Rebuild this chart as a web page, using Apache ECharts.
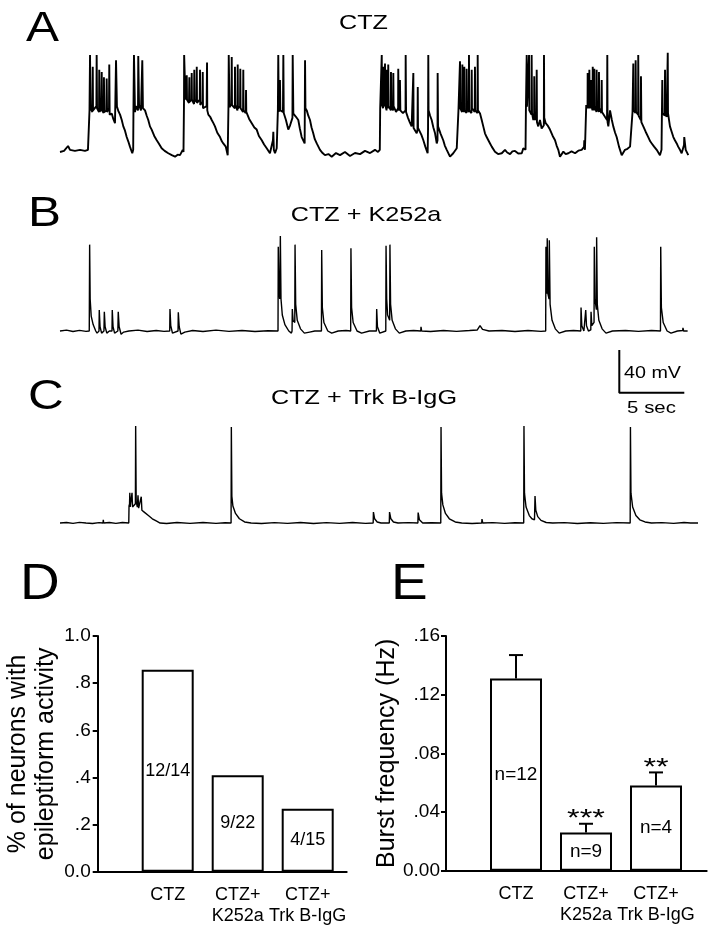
<!DOCTYPE html>
<html><head><meta charset="utf-8">
<script src="https://cdn.jsdelivr.net/npm/echarts/dist/echarts.min.js"></script>
<style>html,body{margin:0;padding:0;background:#fff}#c{width:714px;height:936px}</style>
</head><body><div id="c"></div>
<script>
const FONT = "'Liberation Sans', Arial, Helvetica, sans-serif";

// Panel A: CTZ trace [time s, mV above rest]
const traceA = [
[0,0],[0.31,1],[0.62,5.6],[0.77,2],[1.15,1],[1.54,2],[1.92,1],[2.15,2],[2.25,2],
[2.27,39],[2.31,91],[2.35,41],[2.49,37.5],[2.52,80],[2.54,39],[2.8,43],[2.82,91],[2.85,41],[3.0,37.5],[3.02,77],[3.05,37.5],[3.18,41],[3.21,75],[3.23,39],[3.36,36.5],[3.38,70],[3.41,37.5],[3.57,39],[3.59,69],[3.62,37.5],[3.77,41],[3.79,82],[3.82,35],[3.98,36],[4.1,31],[4.23,27],[4.31,86],[4.38,42.5],[4.5,38],[4.62,35],[4.75,30],[4.87,24],[5.0,20],[5.13,14],[5.25,10],[5.38,5],[5.56,-1.2],[5.63,2],
[5.65,39],[5.69,91],[5.77,37.5],[5.85,43],[6.0,39],[6.02,90],[6.08,44],[6.23,39],[6.33,86],[6.38,41],[6.54,39],[6.67,34],[6.79,30],[6.92,24],[7.05,21],[7.25,15],[7.44,11],[7.6,8],[7.82,3.5],[8.05,1],[8.33,-1.2],[8.6,-3],[8.85,-4.4],[9.05,-2.5],[9.23,-3],[9.44,2],[9.5,0],
[9.54,49],[9.55,91],[9.65,49],[9.75,72],[9.77,49],[9.92,46],[9.95,70],[9.97,47],[10.12,49],[10.13,74],[10.15,49],[10.31,45],[10.33,77],[10.35,47],[10.5,49],[10.52,80],[10.54,46],[10.75,49],[10.77,77],[10.79,44],[10.96,47],[10.98,75],[11.0,41],[11.28,43],[11.31,84],[11.33,39],[11.41,35],[11.55,33],[11.67,30],[11.8,27],[11.92,24],[12.1,18],[12.31,14],[12.45,10],[12.56,8],[12.75,5],[12.9,-3],
[12.96,44],[12.98,91],[13.04,42],[13.19,45],[13.21,89],[13.23,44],[13.45,41],[13.46,80],[13.48,44],[13.65,39],[13.67,82],[13.69,41],[13.85,43],[13.87,78],[13.89,41],[14.08,37.5],[14.1,77],[14.12,39],[14.29,36.5],[14.31,58],[14.33,37.5],[14.36,36],[14.55,31],[14.75,27],[14.95,23],[15.13,21],[15.3,15],[15.52,11],[15.7,7],[15.9,3.5],[16.15,-1.2],[16.38,11],[16.41,19],[16.45,2],[16.54,-1.2],[16.67,3.5],
[16.76,39],[16.79,91],[16.83,37.5],[16.91,37.5],[16.92,67.5],[16.95,39],[17.15,37.5],[17.18,91],[17.21,36.5],[17.38,30],[17.56,21],[17.7,25],[17.82,24],[17.88,32],[17.9,91],[17.95,36],[18.15,33],[18.33,30],[18.45,22],[18.59,14],[18.82,8],[18.85,86],[18.88,41],[18.98,39],[19.1,34],[19.23,30],[19.35,23],[19.48,17.5],[19.6,12],[19.75,8],[20.0,2],[20.2,-1],[20.38,-3],[20.65,-2],[20.9,-4.4],
[21.23,-1],[21.54,-3],[21.92,0],[22.31,-3.8],[22.69,-1],[23.08,-2],[23.46,1],[23.85,-1],[24.23,2],[24.46,0],[24.6,2],
[24.63,41],[24.75,91],[24.77,44],[24.85,41],[24.87,80],[24.89,46],[24.98,43],[25.0,83],[25.02,44],[25.12,39],[25.13,77],[25.15,45],[25.24,41],[25.25,82],[25.28,43],[25.45,39],[25.46,75],[25.48,45],[25.62,39],[25.64,74],[25.66,43],[25.85,37.5],[26.01,41],[26.02,78],[26.05,39],[26.14,43],[26.15,67.5],[26.18,39],[26.38,36.5],[26.58,39],[26.59,91],[26.62,37.5],[26.77,32],[26.9,28],[27.05,24],[27.16,25],[27.18,74],[27.2,22.5],[27.44,17.5],[27.5,21],[27.52,61],[27.54,22.5],[27.62,24],[27.8,16],[27.95,11],[28.1,5],[28.28,-1.2],[28.31,21],[28.33,91],[28.35,39],[28.47,34],[28.59,30],[28.72,23],[28.85,17.5],[28.98,8],[29.04,11],[29.05,74],[29.08,24],[29.28,17],[29.48,11],[29.6,6],[29.75,2],[30.0,-4.4],[30.25,-1.2],[30.52,3.5],[30.62,3.7],
[30.65,39],[30.77,85],[30.79,41],[30.93,37.5],[30.95,82],[30.97,41],[31.08,37.5],[31.1,80],[31.12,39],[31.27,36.5],[31.28,78],[31.31,41],[31.45,37.5],[31.46,91],[31.48,39],[31.65,36.5],[31.67,77],[31.69,41],[31.9,37.5],[31.92,80],[31.95,39],[32.12,36.5],[32.13,91],[32.15,39],[32.31,36],[32.44,30],[32.56,24],[32.69,17.5],[32.82,14],[32.95,11],[33.08,8],[33.21,5],[33.46,0.3],[33.7,-2],[33.98,-1.2],[34.23,2],[34.4,-0.5],[34.62,-2],[34.8,0.5],[35.0,1],[35.25,-1.5],[35.52,-1.2],[35.64,3.5],[35.81,2],
[35.84,41],[35.9,91],[35.92,42.5],[36.06,41],[36.08,91],[36.1,39],[36.27,35],[36.28,91],[36.31,36.5],[36.41,30],[36.47,32],[36.48,71],[36.51,30],[36.65,32],[36.67,77],[36.69,28],[36.79,24],[36.92,30],[37.05,22],[37.22,25],[37.23,91],[37.25,32],[37.36,27],[37.5,25],[37.69,21],[37.9,15],[38.08,11],[38.2,6],[38.33,2],[38.46,-4.4],[38.72,0.3],[38.9,-2],[39.1,-1.2],[39.35,0.5],[39.62,-1.2],[39.87,1.2],[40.13,2],[40.31,4.7],[40.33,11],[40.38,2],[40.45,3.7],
[40.48,44],[40.58,41],[40.59,74],[40.62,45],[40.7,41],[40.72,77],[40.74,46],[40.83,41],[40.85,67.5],[40.87,44],[40.96,39],[40.98,80],[41.0,45],[41.08,39],[41.1,78],[41.12,43],[41.27,37.5],[41.28,77],[41.31,43],[41.45,37.5],[41.46,75],[41.48,41],[41.65,36.5],[41.67,67.5],[41.69,37.5],[41.92,33],[42.08,30],[42.1,91],[42.12,28],[42.18,24],[42.31,39],[42.45,30],[42.56,24],[42.7,18],[42.82,14],[43.0,5],[43.21,-3],[43.46,2],[43.65,3],[43.85,5],[43.98,3.5],
[44.04,37.5],[44.1,83],[44.12,39],[44.27,36.5],[44.28,86],[44.31,37.5],[44.47,35],[44.48,91],[44.51,34],[44.68,30],[44.69,71],[44.72,28],[44.87,24],[45.05,19],[45.25,14],[45.4,10],[45.52,8],[45.7,5],[45.9,2],[46.15,-3],[46.27,2],
[46.3,35],[46.33,67.5],[46.35,36.5],[46.52,34],[46.54,77],[46.56,35],[46.67,33],[46.73,34],[46.75,93],[46.77,36.5],[46.92,24],[47.05,19],[47.18,14],[47.3,11],[47.44,8],[47.55,5],[47.69,2],[47.82,-1.2],[48.0,6.5],[48.02,14],[48.13,2],[48.33,-3]
];

// Panel B: CTZ + K252a trace
const traceB = [
[0,0],[0.5,0.8],[1,-0.5],[1.5,0.6],[2,-0.3],[2.25,0],
[2.28,81],[2.32,30],[2.4,14],[2.55,6],[2.75,0],[2.85,-2],
[3.0,0],[3.02,19.7],[3.08,4],[3.2,-2],[3.38,0],[3.41,18],[3.47,4],[3.6,-2],[3.8,0],
[4.0,0],[4.02,19.7],[4.08,4],[4.2,-2],[4.45,0],[4.48,18],[4.55,4],[4.7,-3],[4.9,-1],[5.3,0],[6,0.8],[6.7,-0.5],[7.4,0.5],[8.0,-0.3],[8.44,0],
[8.46,20.6],[8.52,5],[8.65,-2],[9.08,0],[9.1,17.5],[9.17,4],[9.3,-3],[9.6,-1],[10.2,0.5],[11,-0.5],[12,0.8],[13,-0.3],[14,0.5],[15,-0.5],[16,0.3],[16.77,0],
[16.79,79],[16.83,40],[16.9,30],[16.95,89],[17.0,30],[17.1,15],[17.3,6],[17.6,0],[17.8,-2],[17.85,0],
[17.87,20.6],[17.93,10],[18.06,8],[18.08,81],[18.13,25],[18.25,10],[18.5,2],[18.8,-2],[19.2,-1],[19.6,0],[20.11,0],
[20.13,76],[20.18,22],[20.3,8],[20.6,0],[20.9,-2],[21.4,0],[22.0,0.5],[22.36,0],
[22.38,77.5],[22.43,22],[22.55,8],[22.85,0],[23.2,-2],[23.8,0],[24.34,0],
[24.36,20.6],[24.42,4],[24.6,-2],[25.06,0],
[25.08,80],[25.13,30],[25.2,15],[25.36,10],[25.38,81],[25.43,25],[25.55,10],[25.8,2],[26.1,-2],[26.6,0],[27.2,0.5],[27.75,0],[27.77,4],[27.82,0],[28.5,-0.5],[29.5,0.5],[30.5,-0.3],[31.5,0.5],[32.1,1],[32.31,5],[32.5,1.5],[33,0],[34,0.5],[35,-0.5],[36,0.5],[37,-0.3],[37.36,0],
[37.38,79],[37.42,40],[37.46,35],[37.48,87],[37.53,35],[37.62,30],[37.64,85],[37.7,25],[37.85,10],[38.1,2],[38.4,-2],[38.9,0],[39.5,0.5],[40.06,0],
[40.08,22],[40.14,5],[40.3,0],[40.42,1],[40.44,19.7],[40.5,5],[40.65,0],[40.83,1],[40.85,18],[40.91,5],[41.08,8],[41.1,79],[41.15,30],[41.26,20],[41.28,88],[41.33,25],[41.45,10],[41.7,2],[42.0,-2],[42.5,0],[43.5,0.5],[44.5,-0.3],[45.5,0.5],[46.19,0],
[46.21,79],[46.26,22],[46.4,8],[46.7,0],[47.0,-2],[47.5,0],[47.9,0.5],[47.92,3],[47.97,0],[48.28,0]
];

// Panel C: CTZ + Trk B-IgG trace
const traceC = [
[0,0],[0.5,0.5],[1,-0.3],[1.5,0.6],[2,0],[2.5,-0.5],[3,0.4],[3.31,0],[3.33,3],[3.36,0],[3.8,0.5],[4.3,-0.3],[4.8,0.5],[5.29,0],
[5.31,16],[5.35,18],[5.37,28.4],[5.4,15],[5.5,14],[5.54,28.4],[5.58,15],[5.72,14],[5.8,18],[5.82,91],[5.86,20],[5.95,15],[6.0,26],[6.05,14],[6.15,13],[6.25,24.7],[6.3,12],[6.5,10],[6.8,7],[7.1,4],[7.4,2],[7.7,0],[8.2,-0.5],[9,0.5],[10,-0.3],[11,0.5],[12,-0.3],[12.7,0.3],[13.16,0],
[13.18,90],[13.22,25],[13.3,16],[13.5,9],[13.8,4],[14.2,1],[14.7,0],[15.5,-0.5],[16.5,0.4],[17.5,-0.3],[18.5,0.5],[19.5,-0.4],[20.5,0.4],[21.5,-0.3],[22.5,0.5],[23.5,-0.3],[24.09,0],
[24.11,10.3],[24.2,4],[24.4,1],[24.7,0],[25.33,0],[25.35,10.3],[25.45,4],[25.65,1],[26,0],[26.8,0.4],[27.53,0],[27.55,9.8],[27.65,3],[27.9,0],[28.6,0.3],[29.29,0],
[29.31,90],[29.35,28],[29.45,17],[29.65,9],[29.95,4],[30.4,1],[30.9,0],[31.7,-0.4],[32.44,0],[32.46,3.75],[32.52,0],[33.3,0.4],[34.2,-0.3],[35,0.3],[35.67,0],
[35.69,91],[35.73,28],[35.85,15],[36.1,7],[36.3,4],[36.5,3],[36.54,25.3],[36.6,12],[36.75,6],[37.0,2.5],[37.4,0.5],[37.9,0],[38.8,0.4],[39.8,-0.4],[40.8,0.3],[41.8,-0.3],[42.8,0.4],[43.86,0],
[43.88,90],[43.92,28],[44.05,15],[44.3,7],[44.6,3],[45,1],[45.5,0],[46.3,0.4],[47.2,-0.3],[48.0,0.5],[48.5,0],[49.08,0]
];

// Scale bar: 5 sec, 40 mV
const scaleBarSec = [0, 0, 5];
const scaleBarMv = [40, 0, 0];

// Panels D and E
const groups = ['CTZ', 'CTZ+\nK252a', 'CTZ+\nTrk B-IgG'];
const activeNeurons = [12, 9, 4];
const totalNeurons = [14, 22, 15];
const burstMean = [0.131, 0.026, 0.058];
const burstSem = [0.016, 0.006, 0.009];
const burstN = [12, 9, 4];
const burstSig = ['', '***', '**'];
const dTickLabels = ['0.0', '.2', '.4', '.6', '.8', '1.0'];
const eTickLabels = ['0.00', '.04', '.08', '.12', '.16'];

const chart = echarts.init(document.getElementById('c'));

function traceX(g) { return {gridIndex: g, type: 'value', min: 0, max: 49, show: false}; }
function traceY(g, mn, mx) { return {gridIndex: g, type: 'value', min: mn, max: mx, show: false}; }
function traceSeries(g, data, w) {
  return {type: 'line', xAxisIndex: g, yAxisIndex: g, data: data, showSymbol: false, symbol: 'none',
    sampling: 'none', animation: false, lineStyle: {color: '#000', width: w}, z: 3};
}
const axisLine = {show: true, lineStyle: {color: '#000', width: 2}};
const axisTick = {show: true, inside: false, length: 5, lineStyle: {color: '#000', width: 2}};

function barX(g, mx) {
  return {gridIndex: g, type: 'value', min: 0, max: mx, interval: 1, axisLine: axisLine,
    axisTick: {show: false}, splitLine: {show: false},
    axisLabel: {color: '#000', fontFamily: FONT, fontSize: 18, lineHeight: 21, margin: 13,
      showMinLabel: true, showMaxLabel: true,
      formatter: v => (v >= 1 && v <= 3 && Math.abs(v - Math.round(v)) < 1e-6) ? groups[Math.round(v) - 1] : ''}};
}

function textEl(str, x, y, size, sx, align) {
  return {type: 'text', x: x, y: y, scaleX: sx, silent: true,
    style: {text: str, fill: '#000', font: 'normal ' + size + 'px ' + FONT,
      align: align, textAlign: align, verticalAlign: 'middle', textVerticalAlign: 'middle'}};
}

const option = {
  animation: false,
  backgroundColor: '#fff',
  grid: [
    {left: 60, top: 40, width: 637, height: 130.1},
    {left: 60, top: 229.7, width: 637, height: 117.3},
    {left: 60, top: 421.7, width: 637, height: 112},
    {left: 619.3, top: 350, width: 65, height: 42.7},
    {left: 97.7, top: 636, width: 249, height: 235.7},
    {left: 446, top: 636, width: 260.7, height: 234.7}
  ],
  xAxis: [
    traceX(0), traceX(1), traceX(2),
    {gridIndex: 3, type: 'value', min: 0, max: 5, show: false},
    barX(4, 249 / 70),
    barX(5, 260.7 / 70)
  ],
  yAxis: [
    traceY(0, -17, 105), traceY(1, -15, 95), traceY(2, -10, 95),
    {gridIndex: 3, type: 'value', min: 0, max: 40, show: false},
    {gridIndex: 4, type: 'value', min: 0, max: 1, interval: 0.2, axisLine: axisLine, axisTick: axisTick,
      splitLine: {show: false},
      axisLabel: {color: '#000', fontFamily: FONT, fontSize: 19, margin: 7,
        formatter: v => dTickLabels[Math.round(v / 0.2)]},
      name: '% of neurons with\nepileptiform activity', nameLocation: 'middle', nameGap: 38,
      nameTextStyle: {color: '#000', fontFamily: FONT, fontSize: 25, lineHeight: 28}},
    {gridIndex: 5, type: 'value', min: 0, max: 0.16, interval: 0.04, axisLine: axisLine, axisTick: axisTick,
      splitLine: {show: false},
      axisLabel: {color: '#000', fontFamily: FONT, fontSize: 19, margin: 6,
        formatter: v => eTickLabels[Math.round(v / 0.04)]},
      name: 'Burst frequency (Hz)', nameLocation: 'middle', nameGap: 46,
      nameTextStyle: {color: '#000', fontFamily: FONT, fontSize: 25}}
  ],
  series: [
    traceSeries(0, traceA, 1.9),
    traceSeries(1, traceB, 1.4),
    traceSeries(2, traceC, 1.4),
    {type: 'line', xAxisIndex: 3, yAxisIndex: 3, clip: false, showSymbol: false, symbol: 'none',
      data: scaleBarSec.map((s, i) => [s, scaleBarMv[i]]), lineStyle: {color: '#000', width: 2}},
    {type: 'bar', xAxisIndex: 4, yAxisIndex: 4, barWidth: 52,
      data: groups.map((g, i) => [i + 1, activeNeurons[i] / totalNeurons[i]]),
      itemStyle: {color: '#fff', borderColor: '#000', borderWidth: 2},
      label: {show: true, position: 'inside', color: '#000', fontFamily: FONT, fontSize: 18,
        formatter: p => activeNeurons[p.dataIndex] + '/' + totalNeurons[p.dataIndex]}},
    {type: 'bar', xAxisIndex: 5, yAxisIndex: 5, barWidth: 52,
      data: groups.map((g, i) => [i + 1, burstMean[i]]),
      itemStyle: {color: '#fff', borderColor: '#000', borderWidth: 2},
      label: {show: true, position: 'inside', color: '#000', fontFamily: FONT, fontSize: 19,
        formatter: p => 'n=' + burstN[p.dataIndex]}},
    {type: 'custom', xAxisIndex: 5, yAxisIndex: 5, z: 5,
      data: groups.map((g, i) => [i + 1, burstMean[i], burstSem[i]]),
      renderItem: function (params, api) {
        const x = api.value(0), m = api.value(1), s = api.value(2);
        const p0 = api.coord([x, m]);
        const p1 = api.coord([x, m + s]);
        return {type: 'group', children: [
          {type: 'line', shape: {x1: p0[0], y1: p0[1], x2: p1[0], y2: p1[1]}, style: {stroke: '#000', lineWidth: 2}},
          {type: 'line', shape: {x1: p1[0] - 7, y1: p1[1], x2: p1[0] + 7, y2: p1[1]}, style: {stroke: '#000', lineWidth: 2}},
          {type: 'text', x: p1[0], y: p1[1] + 8, scaleX: 1.35, style: {text: burstSig[params.dataIndex], fill: '#000',
            font: 'normal 24px ' + FONT, align: 'center', textAlign: 'center', verticalAlign: 'bottom', textVerticalAlign: 'bottom'}}
        ]};
      }}
  ],
  graphic: [
    textEl('A', 26, 29, 43, 1.15, 'left'),
    textEl('B', 28, 214, 43, 1.15, 'left'),
    textEl('C', 28, 397, 43, 1.15, 'left'),
    textEl('D', 20, 585, 50, 1.1, 'left'),
    textEl('E', 391, 585, 50, 1.1, 'left'),
    textEl('CTZ', 363.5, 23, 21, 1.2, 'center'),
    textEl('CTZ + K252a', 366, 215, 21, 1.2, 'center'),
    textEl('CTZ + Trk B-IgG', 364, 398, 21, 1.2, 'center'),
    textEl('40 mV', 624, 373, 17, 1.16, 'left'),
    textEl('5 sec', 651.5, 408, 17, 1.2, 'center')
  ]
};
chart.setOption(option);
</script>
</body></html>
